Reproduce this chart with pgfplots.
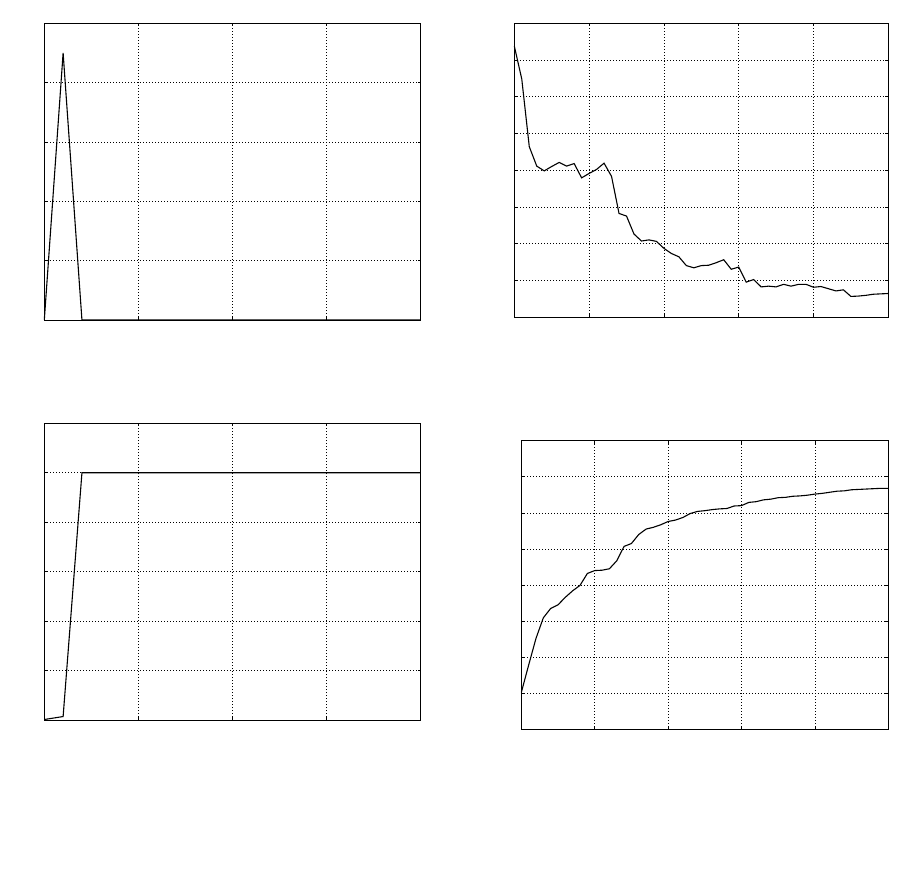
\documentclass[border=0pt]{standalone}
\usepackage{pgfplots}
\pgfplotsset{compat=1.18}
\pgfplotsset{
  panel/.style={
    scale only axis,
    anchor=south west,
    clip=false,
    axis line style={line width=0.7pt},
    grid=major,
    major grid style={black, line width=0.6pt, dash pattern=on 0.8pt off 2.2pt},
    tick align=inside,
    major tick length=3pt,
    tick style={black, line width=0.6pt},
    xticklabels={}, yticklabels={},
    cycle list={{black, no marks}},
    every axis plot post/.append style={line width=1.1pt},
  }
}
\begin{document}
\begin{tikzpicture}[x=1pt,y=1pt]
\path (0,0) rectangle (901,884);

% top left
\begin{axis}[panel, at={(44.3pt,564pt)}, width=376.4pt, height=296.7pt,
  xmin=0, xmax=4, ymin=0, ymax=5, xtick={0,1,2,3,4}, ytick={0,1,2,3,4,5}]
\addplot coordinates {(0,0) (0.2,4.5) (0.4,0) (0.6,0) (0.8,0) (1,0) (1.2,0) (1.4,0)
  (1.6,0) (1.8,0) (2,0) (2.2,0) (2.4,0) (2.6,0) (2.8,0) (3,0) (3.2,0) (3.4,0)
  (3.6,0) (3.8,0) (4,0)};
\end{axis}

% top right
\begin{axis}[panel, at={(514.3pt,567pt)}, width=374pt, height=293.7pt,
  xmin=0, xmax=5, ymin=0, ymax=8, xtick={0,...,5}, ytick={0,...,8}]
\addplot coordinates {(0,7.38) (0.1,6.48) (0.2,4.64) (0.3,4.11) (0.4,3.98) (0.5,4.10)
  (0.6,4.21) (0.7,4.11) (0.8,4.18) (0.9,3.79) (1.0,3.91) (1.1,4.02) (1.2,4.19)
  (1.3,3.83) (1.4,2.82) (1.5,2.75) (1.6,2.26) (1.7,2.07) (1.8,2.10) (1.9,2.06)
  (2.0,1.87) (2.1,1.73) (2.2,1.64) (2.3,1.40) (2.4,1.34) (2.5,1.40) (2.6,1.41)
  (2.7,1.48) (2.8,1.56) (2.9,1.30) (3.0,1.36) (3.1,0.95) (3.2,1.02) (3.3,0.82)
  (3.4,0.84) (3.5,0.82) (3.6,0.89) (3.7,0.84) (3.8,0.89) (3.9,0.89) (4.0,0.81)
  (4.1,0.83) (4.2,0.77) (4.3,0.71) (4.4,0.74) (4.5,0.56) (4.6,0.57) (4.7,0.59)
  (4.8,0.62) (4.9,0.63) (5.0,0.64)};
\end{axis}

% bottom left
\begin{axis}[panel, at={(44.3pt,164pt)}, width=376.4pt, height=296.7pt,
  xmin=0, xmax=4, ymin=0, ymax=6, xtick={0,1,2,3,4}, ytick={0,...,6}]
\addplot coordinates {(0,0.01) (0.2,0.07) (0.4,5) (0.6,5) (0.8,5) (1,5) (1.2,5) (1.4,5)
  (1.6,5) (1.8,5) (2,5) (2.2,5) (2.4,5) (2.6,5) (2.8,5) (3,5) (3.2,5) (3.4,5)
  (3.6,5) (3.8,5) (4,5)};
\end{axis}

% bottom right
\begin{axis}[panel, at={(521.3pt,154.7pt)}, width=367pt, height=288.6pt,
  xmin=0, xmax=5, ymin=0, ymax=8, xtick={0,...,5}, ytick={0,...,8}]
\addplot coordinates {(0,1.02) (0.1,1.78) (0.2,2.52) (0.3,3.09) (0.4,3.35) (0.5,3.45)
  (0.6,3.66) (0.7,3.84) (0.8,3.99) (0.9,4.32) (1.0,4.40) (1.1,4.41) (1.2,4.45)
  (1.3,4.67) (1.4,5.07) (1.5,5.15) (1.6,5.40) (1.7,5.55) (1.8,5.60) (1.9,5.67)
  (2.0,5.76) (2.1,5.80) (2.2,5.87) (2.3,5.98) (2.4,6.04) (2.5,6.06) (2.6,6.09)
  (2.7,6.11) (2.8,6.12) (2.9,6.19) (3.0,6.20) (3.1,6.29) (3.2,6.31) (3.3,6.36)
  (3.4,6.38) (3.5,6.42) (3.6,6.43) (3.7,6.46) (3.8,6.47) (3.9,6.49) (4.0,6.52)
  (4.1,6.54) (4.2,6.57) (4.3,6.60) (4.4,6.61) (4.5,6.64) (4.6,6.65) (4.7,6.66)
  (4.8,6.67) (4.9,6.68) (5.0,6.68)};
\end{axis}
\end{tikzpicture}
\end{document}
